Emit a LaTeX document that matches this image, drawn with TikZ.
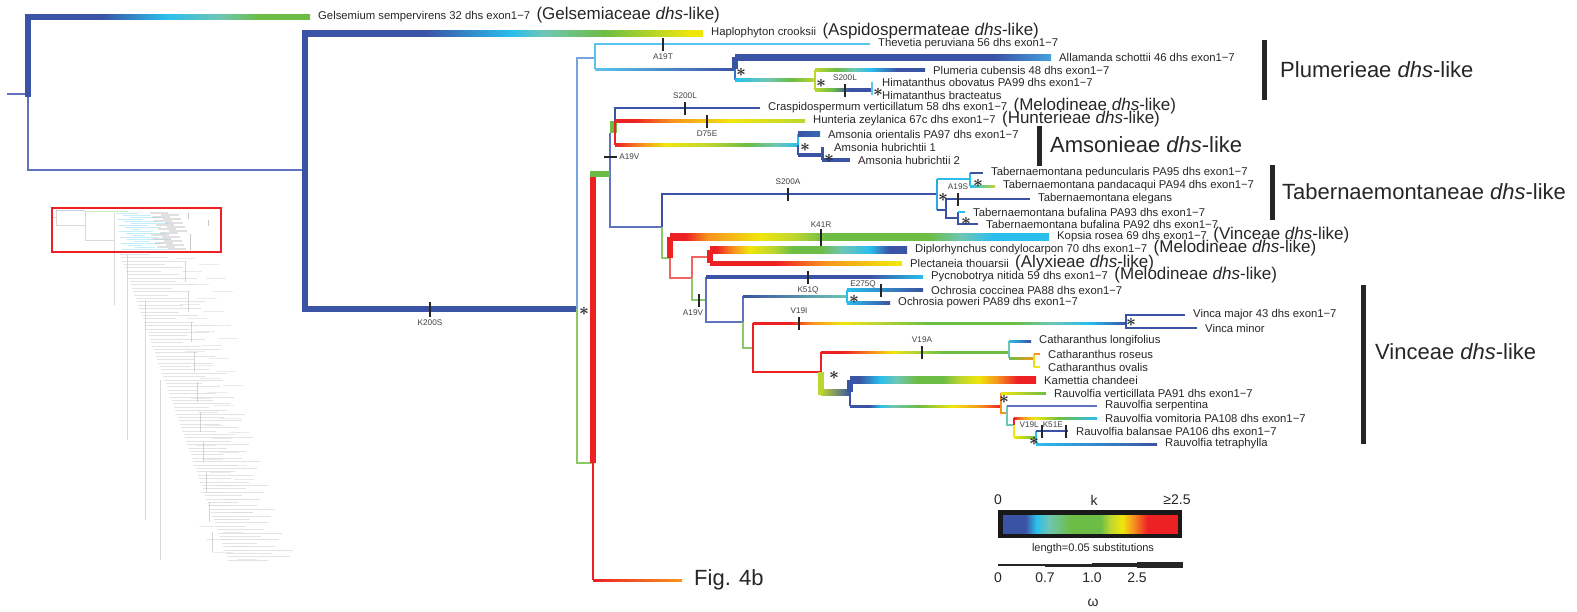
\documentclass[tikz,border=0pt]{standalone}
\usepackage{fontspec}
\setmainfont{Liberation Sans}
\usetikzlibrary{calc, positioning}

\definecolor{kblue}{RGB}{59,83,164}
\definecolor{kcyan}{RGB}{42,190,236}
\definecolor{kteal}{RGB}{110,198,180}
\definecolor{kgreen}{RGB}{108,189,69}
\definecolor{kyg}{RGB}{188,214,48}
\definecolor{kyellow}{RGB}{240,230,12}
\definecolor{korange}{RGB}{247,148,30}
\definecolor{kred}{RGB}{237,32,36}
\definecolor{kmid}{RGB}{70,160,220}
\definecolor{kpale}{RGB}{120,165,222}
\definecolor{kltcyan}{RGB}{90,195,238}
\definecolor{kslate}{RGB}{95,115,190}
\definecolor{klred}{RGB}{240,100,100}
\definecolor{klgreen}{RGB}{140,200,100}

% k along a branch (positions 25bp..75bp span the branch)
\pgfdeclarehorizontalshading{shGel}{100bp}{color(0bp)=(kblue); color(38bp)=(kblue); color(49.5bp)=(kcyan); color(59bp)=(kteal); color(66bp)=(kgreen); color(100bp)=(kgreen)}
\pgfdeclarehorizontalshading{shHap}{100bp}{color(0bp)=(kblue); color(40bp)=(kblue); color(51bp)=(kcyan); color(55bp)=(kteal); color(62.5bp)=(kgreen); color(73.5bp)=(kyellow); color(100bp)=(kyellow)}
\pgfdeclarehorizontalshading{shAll}{100bp}{color(0bp)=(kblue); color(66bp)=(kblue); color(75bp)=(kmid); color(100bp)=(kmid)}
\pgfdeclarehorizontalshading{shPtt}{100bp}{color(0bp)=(kcyan); color(25bp)=(kcyan); color(45bp)=(kteal); color(60bp)=(kgreen); color(75bp)=(kyg); color(100bp)=(kyg)}
\pgfdeclarehorizontalshading{shPlu}{100bp}{color(0bp)=(kyg); color(25bp)=(kyg); color(35bp)=(kgreen); color(42.5bp)=(kteal); color(50bp)=(kcyan); color(62.5bp)=(kblue); color(100bp)=(kblue)}
\pgfdeclarehorizontalshading{shHim}{100bp}{color(0bp)=(kyg); color(25bp)=(kyg); color(40bp)=(kgreen); color(55bp)=(kblue); color(100bp)=(kblue)}
\pgfdeclarehorizontalshading{shHun}{100bp}{color(0bp)=(kred); color(30bp)=(kred); color(40bp)=(korange); color(56bp)=(kyellow); color(75bp)=(kyg); color(100bp)=(kyg)}
\pgfdeclarehorizontalshading{shAms}{100bp}{color(0bp)=(kred); color(25bp)=(kred); color(32.5bp)=(korange); color(39bp)=(kyellow); color(51bp)=(kyg); color(61bp)=(kgreen); color(69bp)=(kteal); color(75bp)=(kcyan); color(100bp)=(kcyan)}
\pgfdeclarehorizontalshading{shKop}{100bp}{color(0bp)=(kred); color(27bp)=(kred); color(30bp)=(korange); color(37bp)=(kyellow); color(41.5bp)=(kyg); color(45.5bp)=(kgreen); color(59bp)=(kgreen); color(63.5bp)=(kteal); color(67.5bp)=(kcyan); color(100bp)=(kcyan)}
\pgfdeclarehorizontalshading{shDip}{100bp}{color(0bp)=(kred); color(26.5bp)=(kred); color(31bp)=(korange); color(35bp)=(kyellow); color(41bp)=(kyg); color(46bp)=(kgreen); color(53bp)=(kgreen); color(58.5bp)=(kteal); color(65.5bp)=(kcyan); color(70.5bp)=(kblue); color(100bp)=(kblue)}
\pgfdeclarehorizontalshading{shPle}{100bp}{color(0bp)=(kred); color(42bp)=(kred); color(55bp)=(korange); color(73.5bp)=(kyellow); color(100bp)=(kyellow)}
\pgfdeclarehorizontalshading{shPyc}{100bp}{color(0bp)=(kblue); color(62.5bp)=(kblue); color(75bp)=(kcyan); color(100bp)=(kcyan)}
\pgfdeclarehorizontalshading{shVin}{100bp}{color(0bp)=(kred); color(30bp)=(kred); color(33bp)=(korange); color(37bp)=(kyellow); color(41.5bp)=(kyg); color(48.5bp)=(kgreen); color(60bp)=(kgreen); color(65bp)=(kteal); color(70bp)=(kcyan); color(75bp)=(kblue); color(100bp)=(kblue)}
\pgfdeclarehorizontalshading{shCat}{100bp}{color(0bp)=(kred); color(31bp)=(kred); color(39bp)=(korange); color(44bp)=(kyellow); color(49bp)=(kyg); color(57.5bp)=(kgreen); color(100bp)=(kgreen)}
\pgfdeclarehorizontalshading{shKam}{100bp}{color(0bp)=(kblue); color(27.5bp)=(kblue); color(33bp)=(kcyan); color(37.5bp)=(kteal); color(43bp)=(kgreen); color(50bp)=(kgreen); color(54.5bp)=(kyg); color(59.5bp)=(kyellow); color(64.5bp)=(korange); color(70bp)=(kred); color(100bp)=(kred)}
\pgfdeclarehorizontalshading{shRau}{100bp}{color(0bp)=(kblue); color(31.5bp)=(kblue); color(35bp)=(kcyan); color(39bp)=(kteal); color(48bp)=(kgreen); color(59bp)=(kyellow); color(68bp)=(korange); color(75bp)=(kred); color(100bp)=(kred)}
\pgfdeclarehorizontalshading{shVom}{100bp}{color(0bp)=(kred); color(25bp)=(kred); color(30bp)=(korange); color(37.5bp)=(kyellow); color(52.5bp)=(kgreen); color(75bp)=(kcyan); color(100bp)=(kcyan)}
\pgfdeclarehorizontalshading{shBar}{100bp}{color(0bp)=(kblue); color(32bp)=(kblue); color(35bp)=(kcyan); color(38.5bp)=(kteal); color(44.5bp)=(kgreen); color(53bp)=(kgreen); color(55.5bp)=(kyg); color(59bp)=(kyellow); color(62bp)=(korange); color(66bp)=(kred); color(100bp)=(kred)}

% shaded branch: [half width]{from}{to}{shade options}
\newcommand\kbar[4][1]{\shade[#4] ($(#2)+(0,-#1)$) rectangle ($(#3)+(0,#1)$);}

\begin{document}
\begin{tikzpicture}[x=1pt, y=-1pt,
  leaf/.style={anchor=west, inner xsep=8pt, inner ysep=0pt, font=\fontsize{11.3}{12}\selectfont, text=black!85},
  tribe/.style={anchor=base west, inner sep=0pt, font=\fontsize{17}{18}\selectfont, text=black!85},
  clade/.style={anchor=west, inner sep=0pt, font=\fontsize{22}{24}\selectfont, text=black!85},
  mut/.style={inner sep=0.5pt, font=\fontsize{8.2}{9}\selectfont, text=black!75},
  mtick/.style={rectangle, fill=black!85, inner sep=0pt, minimum width=2.6pt, minimum height=13pt},
  mhtick/.style={rectangle, fill=black!85, inner sep=0pt, minimum width=13pt, minimum height=2.6pt},
  astk/.style={inner sep=0pt, text=black!85, font=\fontsize{19}{19}\selectfont\boldmath},
  br/.style={line width=1.5pt},
  wbr/.style={line width=5.5pt},
  cladebar/.style={line width=5pt, black!85},
  lgd/.style={inner sep=0pt, font=\fontsize{14}{15}\selectfont, text=black!85}
]
  \useasboundingbox (0,0) rectangle (1577,611);

  % overview of the whole tree (faded), enlarged part boxed
  \begin{scope}[gray!55, line width=0.5pt, opacity=0.55]
    \draw (53,217) -- (56,217);
    \draw (56,210) -- (56,225) -- (85,225);
    \draw[kblue!50] (56,210) -- (85,210);
    \draw (85,211) -- (85,240) -- (114,240);
    \draw[kgreen!60] (85,211) -- (128,211);
    \draw (114,213) -- (114,305);
    \draw (127,255) -- (127,440);
    \draw (145,300) -- (145,520);
    \draw (160,380) -- (160,560);
    \foreach \i in {0,...,18}
      \draw[kcyan!50] ({116+mod(\i*7,20)}, {213+2*\i}) -- ({138+mod(\i*13,34)}, {213+2*\i});
    \foreach \i in {0,...,18}
      \draw[gray!45, line width=1.2pt] ({150+mod(\i*11,20)}, {213+2*\i}) -- ({168+mod(\i*11,20)}, {213+2*\i});
    \draw[black!40, line width=1pt] (188,213) -- (188,219) (208,220) -- (208,226) (190,234) -- (190,250);
    \foreach \i in {0,...,90}
      \draw[gray!40] ({120+1.2*\i}, {254+3.4*\i}) -- ({150+1.2*\i+mod(\i*17,40)}, {254+3.4*\i});
    \foreach \i in {0,...,45}
      \draw[gray!30, line width=1pt] ({175+mod(\i*23,40)+0.6*\i}, {258+6.7*\i}) -- ({195+mod(\i*23,40)+0.6*\i}, {258+6.7*\i});
    \foreach \i in {0,...,9}
      \draw[black!30] ({185+3*\i}, {262+30*\i}) -- ({185+3*\i}, {282+30*\i});
  \end{scope}
  \node[draw=kred, line width=1.3pt, minimum width=169pt, minimum height=44pt, inner sep=0pt] (inset) at (136.5,230) {};

  % internal nodes of the tree
  \coordinate (rs)   at (7,94);
  \coordinate (rt)   at (28,94);
  \coordinate (nA)   at (305,170);
  \coordinate (nB)   at (577,309);
  \coordinate (nP1)  at (595,58);
  \coordinate (nP2)  at (735,69);
  \coordinate (nP3)  at (815,80);
  \coordinate (nP4)  at (872,90);
  \coordinate (nR)   at (593,463);
  \coordinate (nS)   at (610,174);
  \coordinate (nT)   at (615,121);
  \coordinate (nAm)  at (798,145);
  \coordinate (nAm2) at (822,155);
  \coordinate (nU)   at (662,227);
  \coordinate (nTa)  at (937,194);
  \coordinate (nTa1) at (970,179);
  \coordinate (nTa2) at (946,210);
  \coordinate (nTa3) at (958,218);
  \coordinate (nV)   at (670,258);
  \coordinate (nW)   at (692,278);
  \coordinate (nX)   at (710,257);
  \coordinate (nY)   at (706,300);
  \coordinate (nOc0) at (743,322);
  \coordinate (nOc)  at (847,296);
  \coordinate (nZ)   at (753,348);
  \coordinate (nVi)  at (1126,323);
  \coordinate (nAA)  at (821,372);
  \coordinate (nCa)  at (1009,352);
  \coordinate (nCa2) at (1034,358);
  \coordinate (nKR)  at (850,392);
  \coordinate (nRa0) at (1001,406);
  \coordinate (nRa1) at (1007,413);
  \coordinate (nRa2) at (1014,425);
  \coordinate (nRa3) at (1036,437);

  % tips
  \node[leaf] (gels)  at (310,17)   {Gelsemium sempervirens 32 dhs exon1−7};
  \node[leaf] (hapl)  at (703,33)   {Haplophyton crooksii};
  \node[leaf] (thev)  at (870,44)   {Thevetia peruviana 56 dhs exon1−7};
  \node[leaf] (alla)  at (1051,57)  {Allamanda schottii 46 dhs exon1−7};
  \node[leaf] (plum)  at (925,70)   {Plumeria cubensis 48 dhs exon1−7};
  \node[leaf] (himO)  at (874,82)   {Himatanthus obovatus PA99 dhs exon1−7};
  \node[leaf] (himB)  at (874,95)   {Himatanthus bracteatus};
  \node[leaf] (cras)  at (760,108)  {Craspidospermum verticillatum 58 dhs exon1−7};
  \node[leaf] (hunt)  at (805,121)  {Hunteria zeylanica 67c dhs exon1−7};
  \node[leaf] (amsO)  at (820,134)  {Amsonia orientalis PA97 dhs exon1−7};
  \node[leaf] (amsH1) at (826,147)  {Amsonia hubrichtii 1};
  \node[leaf] (amsH2) at (850,160)  {Amsonia hubrichtii 2};
  \node[leaf] (tPed)  at (983,173)  {Tabernaemontana peduncularis PA95 dhs exon1−7};
  \node[leaf] (tPan)  at (995,186)  {Tabernaemontana pandacaqui PA94 dhs exon1−7};
  \node[leaf] (tEle)  at (1030,199) {Tabernaemontana elegans};
  \node[leaf] (tB93)  at (965,212)  {Tabernaemontana bufalina PA93 dhs exon1−7};
  \node[leaf] (tB92)  at (978,224)  {Tabernaemontana bufalina PA92 dhs exon1−7};
  \node[leaf] (kops)  at (1049,237) {Kopsia rosea 69 dhs exon1−7};
  \node[leaf] (dipl)  at (907,250)  {Diplorhynchus condylocarpon 70 dhs exon1−7};
  \node[leaf] (plec)  at (902,263)  {Plectaneia thouarsii};
  \node[leaf] (pycn)  at (923,277)  {Pycnobotrya nitida 59 dhs exon1−7};
  \node[leaf] (ocCo)  at (923,290)  {Ochrosia coccinea PA88 dhs exon1−7};
  \node[leaf] (ocPo)  at (890,303)  {Ochrosia poweri PA89 dhs exon1−7};
  \node[leaf] (viMa)  at (1185,315) {Vinca major 43 dhs exon1−7};
  \node[leaf] (viMi)  at (1197,328) {Vinca minor};
  \node[leaf] (caLo)  at (1031,341) {Catharanthus longifolius};
  \node[leaf] (caRo)  at (1040,354) {Catharanthus roseus};
  \node[leaf] (caOv)  at (1040,367) {Catharanthus ovalis};
  \node[leaf] (kame)  at (1036,380) {Kamettia chandeei};
  \node[leaf] (rVer)  at (1046,393) {Rauvolfia verticillata PA91 dhs exon1−7};
  \node[leaf] (rSer)  at (1097,406) {Rauvolfia serpentina};
  \node[leaf] (rVom)  at (1097,418) {Rauvolfia vomitoria PA108 dhs exon1−7};
  \node[leaf] (rBal)  at (1068,431) {Rauvolfia balansae PA106 dhs exon1−7};
  \node[leaf] (rTet)  at (1157,444) {Rauvolfia tetraphylla};
  \node[leaf, font=\fontsize{22}{24}\selectfont, inner xsep=12pt] (fig) at (682,580) {Fig. 4b};

  % tribes after single tips
  \node[tribe] (gelsT) at ([xshift=-2pt]gels.base east) {(Gelsemiaceae \textit{dhs}-like)};
  \node[tribe] (haplT) at ([xshift=-2pt]hapl.base east) {(Aspidospermateae \textit{dhs}-like)};
  \node[tribe] (crasT) at ([xshift=-2pt]cras.base east) {(Melodineae \textit{dhs}-like)};
  \node[tribe] (huntT) at ([xshift=-2pt]hunt.base east) {(Hunterieae \textit{dhs}-like)};
  \node[tribe] (kopsT) at ([xshift=-2pt]kops.base east) {(Vinceae \textit{dhs}-like)};
  \node[tribe] (diplT) at ([xshift=-2pt]dipl.base east) {(Melodineae \textit{dhs}-like)};
  \node[tribe] (plecT) at ([xshift=-2pt]plec.base east) {(Alyxieae \textit{dhs}-like)};
  \node[tribe] (pycnT) at ([xshift=-2pt]pycn.base east) {(Melodineae \textit{dhs}-like)};

  % clade bars
  \draw[cladebar] (1264,40) -- (1264,100);
  \node[clade] (plumC) at (1280,70) {Plumerieae \textit{dhs}-like};
  \draw[cladebar] (1039,126) -- (1039,166);
  \node[clade] (amsC) at (1050,145) {Amsonieae \textit{dhs}-like};
  \draw[cladebar] (1272,165) -- (1272,220);
  \node[clade] (tabC) at (1282,192) {Tabernaemontaneae \textit{dhs}-like};
  \draw[cladebar] (1363,285) -- (1363,444);
  \node[clade] (vinC) at (1375,352) {Vinceae \textit{dhs}-like};

  % root and outgroups
  \draw[br, kslate] (rs) -- (rt) |- (nA);
  \draw[wbr, kblue, line cap=rect] (rt |- gels.west) -- (rt);
  \kbar[2.75]{rt |- gels.west}{gels.west}{shading=shGel}
  \draw[wbr, kblue, line cap=rect] (nA |- hapl.west) -- (nA |- nB);
  \kbar[3]{nA |- hapl.west}{hapl.west}{shading=shHap}
  \draw[wbr, kblue] (nA |- nB) -- (nB);
  \draw[br, kpale] (nB) |- (nP1);
  \draw[br, klgreen] (nB) |- (nR);

  % Plumerieae
  \draw[br, kltcyan] (thev.west) -| (nP1 |- nP2);
  \kbar{nP1 |- nP2}{nP2}{left color=kltcyan, right color=kblue}
  \draw[wbr, kblue] (nP2 |- alla.west) -- (nP2);
  \kbar[3]{nP2 |- alla.west}{alla.west}{shading=shAll}
  \draw[br, kblue!70!kcyan] (nP2) -- (nP2 |- nP3);
  \kbar[1.1]{nP2 |- nP3}{nP3}{shading=shPtt}
  \draw[br, kyg] (nP3 |- plum.west) -- (nP3 |- nP4);
  \kbar[1.2]{nP3 |- plum.west}{plum.west}{shading=shPlu}
  \kbar[1.1]{nP3 |- nP4}{nP4}{shading=shHim}
  \draw[line width=2.5pt, kltcyan] (nP4 |- himO.west) -- (nP4 |- himB.west);

  % Craspidospermum, Hunteria, Amsonia
  \node[fill=kgreen, inner sep=0pt, minimum width=7pt, minimum height=12pt] (gblk) at (613.5,127) {};
  \draw[br, kslate] (gblk.south -| nS) -- (nS) |- (nU);
  \draw[br, kblue] (nT) |- (cras.west);
  \kbar[1.1]{nT}{hunt.west}{shading=shHun}
  \draw[br, kred] (nT) -- (nT |- nAm);
  \kbar[1.1]{nT |- nAm}{nAm}{shading=shAms}
  \draw[br, kcyan] (nAm |- amsO.west) -- (nAm);
  \draw[line width=2.5pt, kblue] (nAm) -- (nAm |- nAm2);
  \kbar[2.2]{nAm |- amsO.west}{amsO.west}{left color=kblue, right color=kblue!80!kcyan}
  \draw[line width=4pt, kblue] (nAm |- nAm2) -- (nAm2);
  \draw[line width=3pt, kblue] (nAm2 |- amsH1.west) -- (nAm2 |- amsH2.west);
  \draw[line width=4.5pt, kblue] (nAm2 |- amsH2.west) -- (amsH2.west);

  % Red stem to the rest of the tree
  \draw[wbr, kred] (nR) -- (nR |- nS);
  \draw[wbr, kgreen] ([xshift=-3pt]nR |- nS) -- (nS);
  \draw[br, kred] (nR) -- (nR |- fig.west);
  \kbar{nR |- fig.west}{fig.west}{left color=kred, right color=korange}

  % Tabernaemontaneae
  \draw[br, kblue] (nU) |- (nTa);
  \draw[br, klgreen] (nU) |- (nV);
  \draw[br, kcyan!80!kblue] (nTa |- nTa1) -- (nTa |- nTa2);
  \draw[br, kcyan] (nTa |- nTa1) -- (nTa1);
  \draw[br, kcyan] (nTa1 |- tPed.west) -- (nTa1 |- tPan.west);
  \draw[br, kblue] (nTa1 |- tPed.west) -- (tPed.west);
  \kbar{nTa1 |- tPan.west}{tPan.west}{left color=kcyan, right color=kyg}
  \draw[br, kblue] (nTa |- nTa2) -- (nTa2);
  \draw[br, kblue] (nTa2 |- tEle.west) -- (nTa2 |- nTa3) -- (nTa3);
  \draw[br, kblue] (nTa2 |- tEle.west) -- (tEle.west);
  \draw[br, kblue] (nTa3 |- tB93.west) -- (nTa3 |- tB92.west) -- (tB92.west);
  \draw[br, kcyan] (nTa3 |- tB93.west) -- (tB93.west);

  % Kopsia, Diplorhynchus, Plectaneia
  \draw[wbr, kred] (nV |- kops.west) -- (nV);
  \kbar[3.5]{nV |- kops.west}{kops.west}{shading=shKop}
  \draw[br, klred] (nV) |- (nW);
  \draw[br, klred] (nW) |- (nX);
  \draw[br, klgreen] (nW) |- (nY);
  \draw[wbr, kred] (nX |- dipl.west) -- (nX |- plec.west);
  \kbar[3.5]{nX |- dipl.west}{dipl.west}{shading=shDip}
  \kbar[2]{nX |- plec.west}{plec.west}{shading=shPle}

  % Pycnobotrya, Ochrosia
  \draw[br, kslate] (nY |- pycn.west) -- (nY |- nOc0) -- (nOc0);
  \kbar[1.2]{nY |- pycn.west}{pycn.west}{shading=shPyc}
  \draw[br, kslate] (nOc0) -- (nOc0 |- nOc);
  \kbar{nOc0 |- nOc}{nOc}{left color=kblue, right color=kteal}
  \draw[br, klgreen] (nOc0) |- (nZ);
  \draw[br, kcyan] (nOc |- ocCo.west) -- (nOc |- ocPo.west);
  \kbar[1.4]{nOc |- ocCo.west}{ocCo.west}{left color=kcyan, right color=kblue}
  \kbar[1.4]{nOc |- ocPo.west}{ocPo.west}{left color=kcyan, right color=kblue}

  % Vinca, Catharanthus
  \draw[br, kred] (nZ |- nVi) -- (nZ |- nAA) -- (nAA);
  \kbar{nZ |- nVi}{nVi}{shading=shVin}
  \draw[br, kblue] (viMa.west) -| (nVi |- viMi.west) -- (viMi.west);
  \draw[br, kred] (nAA) -- (nAA |- nCa);
  \kbar{nAA |- nCa}{nCa}{shading=shCat}
  \draw[wbr, kyg] (nAA) -- ([yshift=-3pt]nAA |- nKR);
  \draw[br, kteal] (nCa |- caLo.west) -- (nCa |- nCa2);
  \kbar{nCa |- caLo.west}{caLo.west}{left color=kcyan, right color=kblue}
  \kbar{nCa |- nCa2}{nCa2}{left color=kgreen, right color=korange}
  \draw[line width=2.5pt, kyellow!85!kgreen] (nCa2 |- caRo.west) -- (nCa2 |- caOv.west);
  \draw[br, korange] (nCa2 |- caRo.west) -- (caRo.west);
  \draw[br, kyellow] (nCa2 |- caOv.west) -- (caOv.west);

  % Kamettia, Rauvolfia
  \kbar[3]{nAA |- nKR}{nKR}{left color=kyg, middle color=kcyan, right color=kblue}
  \draw[wbr, kblue] (nKR |- kame.west) -- (nKR);
  \kbar[3.5]{nKR |- kame.west}{kame.west}{shading=shKam}
  \draw[br, kblue] (nKR) -- (nKR |- nRa0);
  \kbar{nKR |- nRa0}{nRa0}{shading=shRau}
  \draw[br, korange] (nRa0 |- rVer.west) -- (nRa0 |- nRa1) -- (nRa1);
  \kbar{nRa0 |- rVer.west}{rVer.west}{left color=kyellow, right color=kgreen}
  \draw[br, kteal] (nRa1 |- rSer.west) -- (nRa1 |- nRa2) -- (nRa2);
  \draw[br, kslate] (nRa1 |- rSer.west) -- (rSer.west);
  \draw[br, kred] (nRa2 |- rVom.west) -- (nRa2);
  \draw[br, kyellow] (nRa2) -- (nRa2 |- nRa3);
  \kbar{nRa2 |- rVom.west}{rVom.west}{shading=shVom}
  \kbar{nRa2 |- nRa3}{nRa3}{left color=kyellow, right color=kgreen}
  \draw[br, kcyan] (nRa3 |- rBal.west) -- (nRa3 |- rTet.west);
  \draw[br, kblue] (nRa3 |- rBal.west) -- (rBal.west);
  \kbar{nRa3 |- rTet.west}{rTet.west}{left color=kcyan, right color=kblue}

  % substitutions on branches
  \node[mtick, minimum height=15pt] (mK200S) at (430,309) {};
  \node[mut, below=2pt of mK200S] {K200S};
  \node[mtick] (mA19T) at (663,44) {};
  \node[mut, below=2pt of mA19T] {A19T};
  \node[mtick] (mS200La) at (845,90) {};
  \node[mut, above=2pt of mS200La] {S200L};
  \node[mtick] (mS200Lb) at (685,108) {};
  \node[mut, above=2pt of mS200Lb] {S200L};
  \node[mtick] (mD75E) at (707,121) {};
  \node[mut, below=2pt of mD75E] {D75E};
  \node[mhtick] (mA19Va) at (610,157) {};
  \node[mut, right=2pt of mA19Va] {A19V};
  \node[mtick] (mS200A) at (788,194) {};
  \node[mut, above=2pt of mS200A] {S200A};
  \node[mtick] (mA19S) at (958,199) {};
  \node[mut, above=2pt of mA19S] {A19S};
  \node[mtick, minimum height=17pt] (mK41R) at (821,237) {};
  \node[mut, above=0pt of mK41R] {K41R};
  \node[mtick] (mA19Vb) at (699,300) {};
  \node[mut, below=2pt of mA19Vb, xshift=-6pt] {A19V};
  \node[mtick] (mK51Q) at (808,277) {};
  \node[mut, below=2pt of mK51Q] {K51Q};
  \node[mtick] (mE275Q) at (881,290) {};
  \node[mut, left=3pt of mE275Q, yshift=6pt] {E275Q};
  \node[mtick] (mV19I) at (799,323) {};
  \node[mut, above=2pt of mV19I] {V19I};
  \node[mtick] (mV19A) at (922,352) {};
  \node[mut, above=2pt of mV19A] {V19A};
  \node[mtick] (mV19L) at (1042,431) {};
  \node[mut, left=1pt of mV19L, yshift=6pt] {V19L};
  \node[mtick] (mK51E) at (1066,431) {};
  \node[mut, left=1pt of mK51E, yshift=6pt] {K51E};

  % supported nodes
  \node[astk] (s1)  at (584,311)  {$\ast$};
  \node[astk] (s2)  at (741,72)   {$\ast$};
  \node[astk] (s3)  at (821,83)   {$\ast$};
  \node[astk] (s4)  at (878,92)   {$\ast$};
  \node[astk] (s5)  at (805,147)  {$\ast$};
  \node[astk] (s6)  at (829,158)  {$\ast$};
  \node[astk] (s7)  at (943,197)  {$\ast$};
  \node[astk] (s8)  at (978,183)  {$\ast$};
  \node[astk] (s9)  at (966,221)  {$\ast$};
  \node[astk] (s10) at (854,299)  {$\ast$};
  \node[astk] (s11) at (1131,322) {$\ast$};
  \node[astk] (s12) at (834,375)  {$\ast$};
  \node[astk] (s13) at (1004,399) {$\ast$};
  \node[astk] (s14) at (1034,441) {$\ast$};

  % legend: k colour, omega width
  \node[lgd] (l0)  at (998,500)  {0};
  \node[lgd] (lk)  at (1094,500) {k};
  \node[lgd] (l25) at (1177,500) {≥2.5};
  \node[shade, shading=shBar, draw=black!90, line width=4.5pt, minimum width=179.5pt, minimum height=23.5pt, inner sep=0pt] (kscale) at (1090,524) {};
  \node[lgd, font=\fontsize{11}{12}\selectfont] (llen) at (1093,549) {length=0.05 substitutions};
  \coordinate (w0) at (998,565);
  \coordinate (w1) at (1045,565);
  \coordinate (w2) at (1092,565);
  \coordinate (w3) at (1137,565);
  \coordinate (w4) at (1183,565);
  \draw[line width=1.2pt, black!85] (w0) -- (w1);
  \draw[line width=3pt, black!85] (w1) -- (w2);
  \draw[line width=4.5pt, black!85] (w2) -- (w3);
  \draw[line width=6.5pt, black!85] (w3) -- (w4);
  \node[lgd, below=8pt of w0] {0};
  \node[lgd, below=8pt of w1] {0.7};
  \node[lgd, below=8pt of w2] {1.0};
  \node[lgd, below=8pt of w3] {2.5};
  \node[lgd] (lw) at (1093,603) {ω};
\end{tikzpicture}
\end{document}
